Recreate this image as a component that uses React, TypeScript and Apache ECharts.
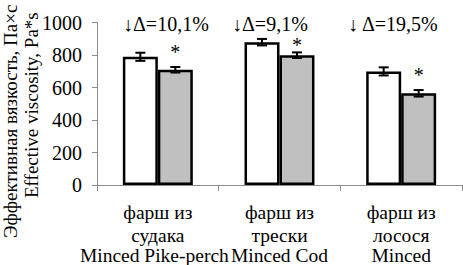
import React, { useEffect, useRef } from "react";
import * as echarts from "echarts";

const categories = ["фарш из\nсудака\nMinced Pike-perch", "фарш из\nтрески\nMinced Cod", "фарш из\nлосося\nMinced"];
const controlValues = [790, 880, 700];
const controlErrors = [25, 20, 25];
const treatedValues = [710, 800, 565];
const treatedErrors = [17, 17, 20];
const deltaLabels = ["↓Δ=10,1%", "↓Δ=9,1%", "↓ Δ=19,5%"];
const yTicks = [0, 200, 400, 600, 800, 1000];

const FONT = "Liberation Serif";
const CAT_GAP = 0.425;

export default function App() {
  const ref = useRef<HTMLDivElement>(null);
  useEffect(() => {
    if (!ref.current) return;
    const chart = echarts.init(ref.current, null, { renderer: "svg" });
    const errData: any[] = [];
    controlValues.forEach((v, i) => errData.push([i, v, controlErrors[i], -1]));
    treatedValues.forEach((v, i) => errData.push([i, v, treatedErrors[i], 1]));
    const deltaPos = [
      { x: 123, y: 24 },
      { x: 232, y: 24 },
      { x: 348, y: 24 },
    ];
    chart.setOption({
      animation: false,
      textStyle: { fontFamily: FONT, color: "#000" },
      grid: { left: 97, right: 1, top: 22.7, bottom: 79.3 },
      xAxis: {
        type: "category",
        data: categories,
        axisLine: { lineStyle: { color: "#8c8c8c", width: 1 } },
        axisTick: { show: true, length: 6, lineStyle: { color: "#8c8c8c" } },
        axisLabel: {
          margin: 15,
          interval: 0,
          fontFamily: FONT,
          formatter: (val: string, idx: number) => {
            const parts = val.split("\n");
            const c = idx === 0 ? "c0" : "c";
            return `{a|${parts[0]}}\n{b|${parts[1]}}\n{${c}|${parts[2]}}`;
          },
          rich: {
            a: { fontFamily: FONT, fontSize: 19.5, color: "#000", lineHeight: 24 },
            b: { fontFamily: FONT, fontSize: 19.5, color: "#000", lineHeight: 22 },
            c: { fontFamily: FONT, fontSize: 19.5, color: "#000", lineHeight: 18 },
            c0: { fontFamily: FONT, fontSize: 19.5, color: "#000", lineHeight: 18, padding: [0, 7, 0, 0] },
          },
        },
      },
      yAxis: {
        type: "value",
        min: yTicks[0],
        max: yTicks[yTicks.length - 1],
        interval: 200,
        splitLine: { show: false },
        axisLine: { show: true, lineStyle: { color: "#8c8c8c", width: 1 } },
        axisTick: { show: true, length: 5, lineStyle: { color: "#8c8c8c" } },
        axisLabel: {
          margin: 15,
          fontFamily: FONT,
          fontSize: 20,
          color: "#000",
          formatter: (v: number) => String(v),
        },
      },
      series: [
        {
          type: "bar",
          data: controlValues,
          barGap: "0%",
          barCategoryGap: CAT_GAP * 100 + "%",
          itemStyle: { color: "#ffffff", borderColor: "#000", borderWidth: 2.5 },
        },
        {
          type: "bar",
          data: treatedValues.map((v, i) => ({
            value: v,
            label: { distance: i === 1 ? 0 : 8 },
          })),
          barGap: "0%",
          barCategoryGap: CAT_GAP * 100 + "%",
          itemStyle: { color: "#c0c0c0", borderColor: "#000", borderWidth: 2.5 },
          label: {
            show: true,
            position: "top",
            formatter: "*",
            fontFamily: FONT,
            fontSize: 20,
            color: "#000",
          },
        },
        {
          type: "custom",
          data: errData,
          z: 10,
          renderItem: (params: any, api: any) => {
            const idx = api.value(0);
            const v = api.value(1);
            const e = api.value(2);
            const side = api.value(3);
            const band = api.size([1, 0])[0];
            const off = (band * (1 - CAT_GAP)) / 4;
            const top = api.coord([idx, v + e]);
            const bot = api.coord([idx, v - e]);
            const x = top[0] + side * off;
            const hw = 5;
            const style = { stroke: "#000", lineWidth: 2 };
            return {
              type: "group",
              children: [
                { type: "line", shape: { x1: x, y1: top[1], x2: x, y2: bot[1] }, style },
                { type: "line", shape: { x1: x - hw, y1: top[1], x2: x + hw, y2: top[1] }, style },
                { type: "line", shape: { x1: x - hw, y1: bot[1], x2: x + hw, y2: bot[1] }, style },
              ],
            };
          },
        },
      ],
      graphic: [
        ...deltaLabels.map((t, i) => ({
          type: "text",
          x: deltaPos[i].x,
          y: deltaPos[i].y,
          style: { text: t, fontFamily: FONT, fontSize: 20, fill: "#000", textAlign: "left", textVerticalAlign: "middle" },
        })),
        {
          type: "text",
          x: 10,
          y: 238,
          rotation: Math.PI / 2,
          style: {
            text: "Эффективная вязкость, Па×с",
            fontFamily: FONT,
            fontSize: 19,
            fill: "#000",
            textAlign: "left",
            textVerticalAlign: "middle",
          },
        },
        {
          type: "text",
          x: 31,
          y: 198,
          rotation: Math.PI / 2,
          style: {
            text: "Effective viscosity, Pa*s",
            fontFamily: FONT,
            fontSize: 19,
            fill: "#000",
            textAlign: "left",
            textVerticalAlign: "middle",
          },
        },
      ],
    });
    return () => chart.dispose();
  }, []);
  return <div ref={ref} style={{ width: 463, height: 265, position: "absolute", left: 0, top: 0 }} />;
}
